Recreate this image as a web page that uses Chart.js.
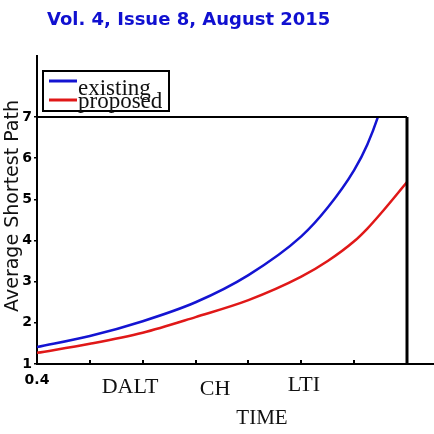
<!DOCTYPE html>
<html>
<head>
<meta charset="utf-8">
<script src="https://cdn.jsdelivr.net/npm/chart.js@4/dist/chart.umd.min.js"></script>
<style>
  body { margin: 0; background: #fff; }
  #wrap { width: 434px; height: 434px; }
</style>
</head>
<body>
<div id="wrap"><canvas id="pathchart" width="434" height="434"></canvas></div>
<script>
const timeX = [0, 1, 2, 3, 4, 5, 5.5, 6, 6.25, 6.5, 7];
const existing = [1.41, 1.68, 2.04, 2.5, 3.16, 4.1, 4.8, 5.71, 6.33, 7.2, 9.6];
const proposed = [1.27, 1.49, 1.76, 2.14, 2.55, 3.12, 3.5, 3.98, 4.29, 4.65, 5.42];
const seriesNames = ['existing', 'proposed'];
const methodLabels = ['DALT', 'CH', 'LTI'];
const methodAt = [1.76, 3.37, 5.05];

const ctx = document.querySelector('#pathchart').getContext('2d');

const extras = {
  id: 'extras',
  afterDraw(chart) {
    const c = chart.ctx;
    const a = chart.chartArea;
    const xs = chart.scales.x;
    c.save();
    c.strokeStyle = '#000';
    // frame
    c.lineWidth = 2;
    c.beginPath();
    c.moveTo(a.left, a.top); c.lineTo(a.right, a.top);
    c.moveTo(a.left, 55); c.lineTo(a.left, a.top);
    c.moveTo(a.right, a.bottom); c.lineTo(434, a.bottom);
    c.stroke();
    c.lineWidth = 3;
    c.beginPath();
    c.moveTo(a.right, a.top); c.lineTo(a.right, a.bottom);
    c.stroke();
    // inward ticks on x
    c.lineWidth = 2;
    c.beginPath();
    for (let i = 1; i < 7; i++) {
      const px = Math.round(xs.getPixelForValue(i));
      c.moveTo(px, a.bottom); c.lineTo(px, a.bottom - 4);
    }
    c.stroke();

    // header
    c.fillStyle = '#1010d0';
    c.font = 'bold 18px "DejaVu Sans"';
    c.textAlign = 'left';
    c.textBaseline = 'alphabetic';
    c.fillText('Vol. 4, Issue 8, August 2015', 47, 25);

    // y title
    c.fillStyle = '#111';
    c.font = '19px "DejaVu Sans"';
    c.save();
    c.translate(13, 206);
    c.rotate(-Math.PI / 2);
    c.textAlign = 'center';
    c.textBaseline = 'middle';
    c.fillText('Average Shortest Path', 0, 0);
    c.restore();

    // legend
    c.fillStyle = '#fff';
    c.fillRect(43, 71, 126, 40);
    c.lineWidth = 2;
    c.strokeRect(43, 71, 126, 40);
    const cols = chart.data.datasets.map(d => d.borderColor);
    const ly = [81, 100];
    c.lineWidth = 3;
    for (let i = 0; i < 2; i++) {
      c.strokeStyle = cols[i];
      c.beginPath();
      c.moveTo(49, ly[i]); c.lineTo(77, ly[i]);
      c.stroke();
    }
    c.fillStyle = '#111';
    c.font = '23px "Liberation Serif"';
    c.textAlign = 'left';
    c.textBaseline = 'alphabetic';
    c.fillText(seriesNames[0], 78, 95);
    c.fillText(seriesNames[1], 78, 108);

    // methods along time
    c.font = '22px "Liberation Serif"';
    c.textAlign = 'center';
    const base = [393, 395, 391];
    methodLabels.forEach((m, i) => {
      c.fillText(m, xs.getPixelForValue(methodAt[i]), base[i]);
    });
    c.font = '21px "Liberation Serif"';
    c.fillText('TIME', 262, 424);
    c.restore();
  }
};

new Chart(ctx, {
  type: 'line',
  data: {
    datasets: [
      {
        label: seriesNames[0],
        data: timeX.map((x, i) => ({ x: x, y: existing[i] })),
        borderColor: '#1414d2',
        borderWidth: 2.5,
        pointRadius: 0,
        cubicInterpolationMode: 'monotone',
        clip: 0
      },
      {
        label: seriesNames[1],
        data: timeX.map((x, i) => ({ x: x, y: proposed[i] })),
        borderColor: '#e01818',
        borderWidth: 2.5,
        pointRadius: 0,
        cubicInterpolationMode: 'monotone',
        clip: 0
      }
    ]
  },
  options: {
    responsive: false,
    animation: false,
    layout: { padding: { top: 117, right: 27, left: 0, bottom: 0 } },
    plugins: { legend: { display: false }, tooltip: { enabled: false } },
    scales: {
      x: {
        type: 'linear',
        min: 0,
        max: 7,
        afterFit(scale) { scale.height = 70; },
        grid: { display: false },
        border: { display: true, color: '#000', width: 2 },
        ticks: {
          stepSize: 1,
          padding: 0,
          color: '#000',
          font: { family: 'DejaVu Sans', size: 14, weight: 'bold' },
          callback: (v) => v === 0 ? '0.4' : ''
        }
      },
      y: {
        min: 1,
        max: 7,
        afterFit(scale) { scale.width = 37; },
        grid: { drawOnChartArea: false, tickLength: 3, color: '#000', lineWidth: 1.5 },
        border: { display: true, color: '#000', width: 2 },
        ticks: {
          stepSize: 1,
          padding: 2,
          color: '#000',
          font: { family: 'DejaVu Sans', size: 14, weight: 'bold' }
        }
      }
    }
  },
  plugins: [extras]
});
</script>
</body>
</html>
